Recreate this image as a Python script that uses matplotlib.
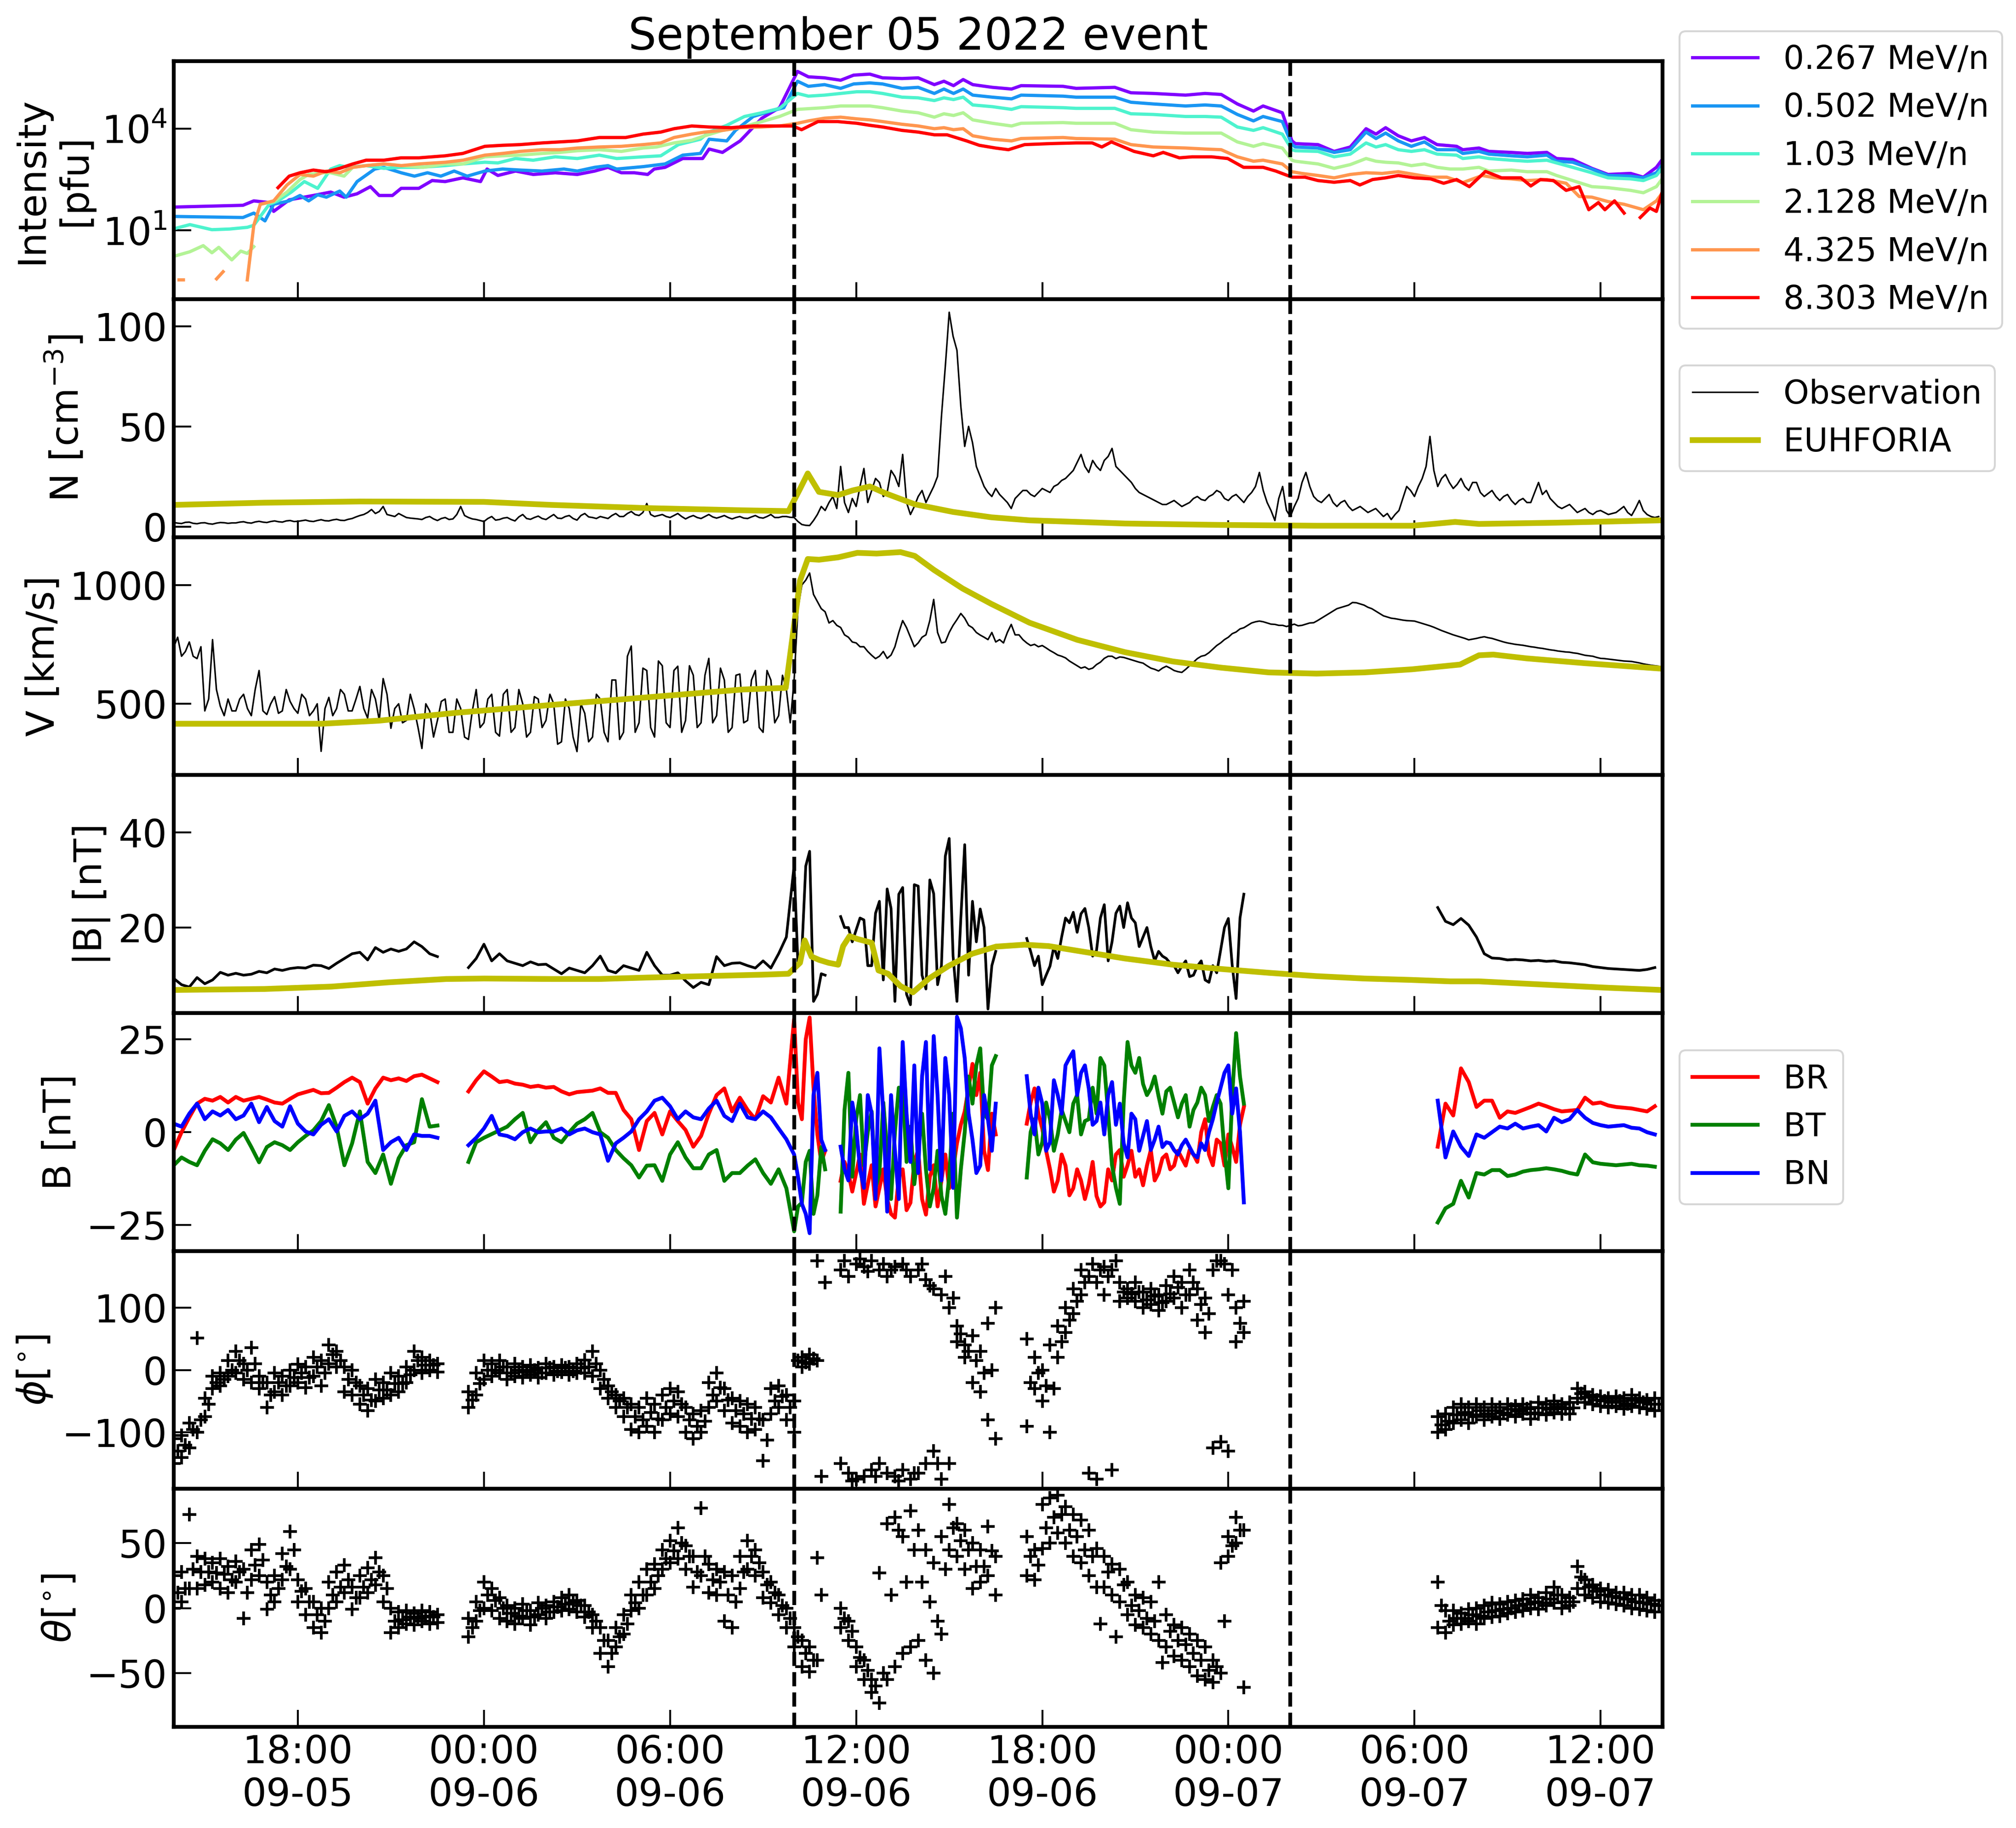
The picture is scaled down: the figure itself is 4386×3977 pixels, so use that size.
import numpy as np
import matplotlib
matplotlib.use("Agg")
import matplotlib.pyplot as plt
import matplotlib.dates as mdates
from matplotlib.ticker import NullLocator

nan = np.nan

# ---------------- time reference ----------------
start = np.datetime64("2022-09-05T14:00:00")
stop = np.datetime64("2022-09-07T14:00:00")
shock_time = np.datetime64("2022-09-06T10:00:00")
end_time = np.datetime64("2022-09-07T02:00:00")

# ---------------- panel 1: intensities (hours since start, log10 pfu) ----------------
energies = ["0.267 MeV/n", "0.502 MeV/n", "1.03 MeV/n", "2.128 MeV/n", "4.325 MeV/n", "8.303 MeV/n"]

flux_0267 = [(0.10,1.69),(2.23,1.74),(2.58,1.87),(3.08,1.82),(3.22,1.56),(3.72,1.90),(4.50,2.03),(5.06,2.13),
    (5.49,1.98),(5.91,2.08),(6.34,2.29),(6.62,2.03),(7.05,2.03),(7.33,2.24),(7.90,2.24),(8.33,2.47),(8.75,2.44),
    (9.32,2.55),(9.89,2.44),(10.10,2.81),(10.45,2.62),(11.02,2.75),(11.59,2.65),(12.30,2.70),(13.01,2.65),
    (13.57,2.75),(14.00,2.86),(14.43,2.70),(14.85,2.70),(15.28,2.65),(15.49,2.81),(15.84,2.86),(16.41,3.12),
    (17.05,3.12),(17.26,3.40),(17.69,3.30),(18.26,3.64),(18.96,4.31),(19.53,4.62),(20.11,5.69),(20.46,5.53),
    (20.98,5.50),(21.50,5.43),(21.92,5.58),(22.44,5.61),(22.85,5.50),(23.48,5.48),(24.00,5.50),(24.52,5.30),
    (24.83,5.40),(25.14,5.27),(25.45,5.45),(25.76,5.30),(26.39,5.22),(27.01,5.17),(27.32,5.27),(28.67,5.25),
    (29.09,5.19),(30.34,5.22),(30.86,5.06),(31.58,5.04),(32.62,4.99),(33.25,5.04),(33.77,5.01),(34.29,4.73),
    (34.81,4.52),(35.12,4.67),(35.74,4.47),(36.05,3.64),(36.16,3.56),(36.89,3.53),(37.41,3.33),(37.93,3.46),
    (38.44,4.00),(38.76,3.84),(39.07,4.03),(39.48,3.79),(39.90,3.64),(40.32,3.74),(40.73,3.53),(41.36,3.48),
    (41.56,3.38),(42.08,3.43),(42.40,3.33),(43.12,3.30),(43.64,3.27),(44.27,3.30),(44.58,3.12),(45.10,3.09),
    (45.72,2.83),(46.24,2.65),(46.97,2.68),(47.38,2.57),(47.80,2.86),(47.97,3.07)]

flux_0502 = [(0.10,1.41),(2.23,1.38),(2.58,1.51),(2.94,1.28),(3.22,1.77),(3.72,1.87),(4.07,2.03),(4.35,1.87),
    (4.64,2.05),(4.92,1.98),(5.35,2.16),(5.56,1.98),(5.91,2.44),(6.48,2.81),(6.77,2.86),(7.33,2.70),(7.76,2.60),
    (8.18,2.70),(8.61,2.60),(9.04,2.75),(9.46,2.60),(10.03,2.75),(10.60,2.81),(11.16,2.78),(11.87,2.75),
    (12.58,2.81),(13.01,2.75),(13.57,2.86),(14.00,2.91),(14.28,2.81),(15.13,2.88),(15.84,2.96),(16.41,3.22),
    (16.98,3.27),(17.26,3.69),(17.83,3.64),(18.11,3.95),(18.68,4.36),(19.25,4.52),(19.67,4.62),(20.11,5.40),
    (20.46,5.25),(20.98,5.30),(21.50,5.19),(21.92,5.32),(22.44,5.35),(22.85,5.32),(23.48,5.19),(24.00,5.22),
    (24.52,5.04),(24.83,5.17),(25.14,5.04),(25.45,5.17),(25.76,4.99),(26.39,4.93),(27.01,4.88),(27.32,4.99),
    (28.67,4.96),(29.09,4.93),(30.34,4.93),(30.86,4.78),(31.58,4.73),(32.62,4.67),(33.25,4.70),(33.77,4.67),
    (34.29,4.42),(34.81,4.23),(35.12,4.36),(35.74,4.21),(36.05,3.53),(36.16,3.46),(36.89,3.43),(37.41,3.30),
    (37.93,3.38),(38.44,3.90),(38.76,3.71),(39.07,3.87),(39.48,3.64),(39.90,3.48),(40.32,3.61),(40.73,3.38),
    (41.36,3.38),(41.56,3.27),(42.08,3.33),(42.40,3.25),(43.12,3.20),(43.64,3.17),(44.27,3.22),(44.58,3.04),
    (45.10,3.01),(45.72,2.81),(46.24,2.62),(46.97,2.60),(47.38,2.55),(47.80,2.70),(47.97,2.91)]

flux_103 = [(0.10,1.07),(0.52,1.17),(1.23,1.02),(1.80,1.04),(2.37,1.09),(2.58,1.15),(3.08,1.77),(3.36,1.87),
    (3.79,2.13),(4.21,2.44),(4.64,2.24),(5.06,2.81),(5.35,2.91),(5.63,2.86),(6.20,2.91),(6.77,2.83),(7.33,2.86),
    (7.90,2.86),(8.75,2.91),(9.32,2.96),(10.03,3.01),(10.45,2.99),(11.02,3.12),(11.59,3.07),(12.30,3.17),
    (13.01,3.12),(13.72,3.22),(14.28,3.12),(15.13,3.17),(15.70,3.20),(16.27,3.53),(16.98,3.69),(17.26,3.90),
    (17.83,4.10),(18.40,4.36),(18.96,4.47),(19.53,4.60),(20.11,5.04),(20.46,4.96),(20.98,4.99),(21.50,5.04),
    (22.02,5.09),(22.44,5.09),(22.85,5.04),(23.48,4.93),(24.00,4.91),(24.52,4.83),(24.83,4.91),(25.14,4.86),
    (25.45,4.93),(25.76,4.70),(26.39,4.65),(27.01,4.57),(27.32,4.65),(28.67,4.62),(29.09,4.60),(30.34,4.60),
    (30.86,4.44),(31.58,4.42),(32.62,4.36),(33.25,4.36),(33.77,4.34),(34.29,4.05),(34.81,3.95),(35.12,4.03),
    (35.74,3.84),(36.05,3.38),(36.16,3.35),(36.89,3.33),(37.41,3.17),(37.93,3.25),(38.44,3.58),(38.76,3.46),
    (39.07,3.53),(39.48,3.38),(39.90,3.33),(40.32,3.38),(40.73,3.25),(41.36,3.22),(41.56,3.12),(42.08,3.17),
    (42.40,3.12),(43.12,3.07),(43.64,3.04),(44.27,3.07),(44.58,2.99),(45.10,2.86),(45.72,2.70),(46.24,2.55),
    (46.97,2.52),(47.38,2.47),(47.80,2.62),(47.97,2.81)]

flux_2128 = [(0.10,0.26),(0.52,0.37),(0.95,0.55),(1.23,0.34),(1.45,0.50),(1.87,0.13),(2.16,0.39),(2.37,0.32),
    (2.58,0.52),(2.60,nan),(2.79,1.77),(3.22,1.85),(3.65,2.13),(4.07,2.50),(4.35,2.65),(4.78,2.70),(5.06,2.70),
    (5.49,2.60),(5.77,2.86),(6.20,2.91),(6.77,2.96),(7.33,2.91),(8.04,2.86),(8.75,2.96),(9.32,2.96),(10.03,3.17),
    (10.60,3.20),(11.16,3.22),(11.87,3.27),(12.44,3.30),(13.01,3.35),(13.72,3.38),(14.43,3.33),(15.13,3.43),
    (15.56,3.46),(16.13,3.58),(16.70,3.66),(17.12,3.79),(17.69,3.95),(18.26,4.03),(18.96,4.21),(19.53,4.36),
    (20.11,4.57),(20.98,4.62),(21.50,4.67),(22.44,4.67),(22.85,4.62),(23.48,4.52),(24.00,4.47),(24.52,4.34),
    (24.83,4.44),(25.14,4.39),(25.45,4.47),(25.76,4.26),(26.39,4.16),(27.01,4.08),(27.32,4.16),(28.67,4.18),
    (29.09,4.16),(30.34,4.16),(30.86,3.97),(31.58,3.90),(32.62,3.87),(33.25,3.87),(33.77,3.87),(34.29,3.61),
    (34.81,3.48),(35.12,3.56),(35.74,3.43),(36.05,3.07),(36.16,3.04),(36.89,2.96),(37.41,2.83),(37.93,2.94),
    (38.44,3.12),(38.76,3.04),(39.07,3.01),(39.48,2.99),(39.90,2.91),(40.32,2.96),(40.73,2.86),(41.15,2.81),
    (41.56,2.81),(42.08,2.86),(42.40,2.75),(43.12,2.78),(43.64,2.73),(44.27,2.73),(44.58,2.62),(45.10,2.47),
    (45.72,2.29),(46.24,2.26),(46.97,2.18),(47.38,2.11),(47.80,2.29),(47.97,2.50)]

flux_4325 = [(0.17,-0.46),(0.31,-0.46),(0.32,nan),(1.38,-0.43),(1.59,-0.22),(1.60,nan),(2.37,-0.46),(2.58,1.15),
    (2.79,1.77),(3.22,1.87),(3.65,2.34),(4.07,2.65),(4.50,2.60),(4.92,2.75),(5.35,2.70),(5.77,2.86),(6.20,2.91),
    (6.77,2.96),(7.33,2.91),(7.90,2.96),(8.75,3.01),(9.32,3.07),(10.03,3.22),(10.60,3.27),(11.16,3.33),
    (11.87,3.38),(12.44,3.38),(13.01,3.43),(13.72,3.46),(14.43,3.48),(15.13,3.53),(15.70,3.58),(16.13,3.74),
    (16.70,3.84),(17.12,3.90),(17.69,3.95),(18.26,4.03),(18.96,4.05),(19.53,4.08),(20.11,4.16),(20.46,4.23),
    (20.98,4.31),(21.50,4.34),(22.02,4.29),(22.44,4.26),(22.85,4.21),(23.48,4.13),(24.00,4.08),(24.52,4.00),
    (24.83,4.03),(25.14,3.97),(25.45,4.00),(25.76,3.79),(26.39,3.69),(27.01,3.64),(27.32,3.71),(28.67,3.74),
    (29.09,3.71),(30.34,3.69),(30.86,3.53),(31.58,3.46),(32.62,3.43),(33.25,3.40),(33.77,3.38),(34.29,3.17),
    (34.81,3.04),(35.12,3.07),(35.74,2.96),(36.05,2.73),(36.37,2.68),(36.89,2.62),(37.41,2.55),(37.93,2.65),
    (38.44,2.70),(38.96,2.68),(39.48,2.73),(40.00,2.65),(40.52,2.57),(41.04,2.57),(41.56,2.41),(42.19,2.62),
    (42.60,2.55),(43.12,2.52),(43.64,2.47),(44.27,2.50),(44.89,2.39),(45.31,2.00),(45.72,1.98),(46.24,1.85),
    (46.76,1.77),(47.38,1.61),(47.80,1.87),(47.97,2.08)]

flux_8303 = [(3.36,2.26),(3.72,2.60),(4.07,2.70),(4.50,2.78),(4.92,2.73),(5.35,2.83),(5.77,2.96),(6.20,3.07),
    (6.77,3.07),(7.33,3.14),(7.90,3.14),(8.75,3.20),(9.32,3.27),(10.03,3.48),(10.60,3.51),(11.16,3.53),
    (11.87,3.58),(12.44,3.61),(13.01,3.64),(13.72,3.74),(14.57,3.74),(15.13,3.84),(15.70,3.90),(16.13,4.00),
    (16.70,4.08),(17.26,4.05),(17.97,4.03),(18.68,4.08),(19.39,4.08),(19.96,4.08),(20.24,3.97),(20.77,4.21),
    (21.40,4.21),(22.02,4.16),(22.44,4.10),(22.85,4.05),(23.48,3.95),(24.00,3.90),(24.52,3.82),(24.93,3.82),
    (25.56,3.64),(25.97,3.51),(26.49,3.43),(26.91,3.38),(27.43,3.53),(28.26,3.56),(29.09,3.58),(29.61,3.58),
    (29.92,3.46),(30.23,3.61),(30.96,3.33),(31.58,3.20),(31.90,3.30),(32.42,3.14),(32.83,3.17),(33.46,3.17),
    (33.98,3.12),(34.49,2.86),(35.12,2.86),(35.53,2.75),(36.05,2.57),(36.47,2.57),(36.89,2.47),(37.41,2.42),
    (37.93,2.47),(38.24,2.34),(38.65,2.50),(39.07,2.55),(39.48,2.62),(40.00,2.55),(40.52,2.52),(40.94,2.39),
    (41.36,2.50),(41.77,2.29),(42.29,2.74),(42.81,2.55),(43.43,2.55),(43.75,2.31),(44.06,2.50),(44.48,2.47),
    (44.89,2.18),(45.31,2.29),(45.62,1.61),(45.93,1.82),(46.14,1.61),(46.45,1.87),(46.76,1.51),(46.80,nan),
    (47.28,1.38),(47.59,1.66),(47.80,1.56),(47.97,2.08)]

flux_series = [flux_0267, flux_0502, flux_103, flux_2128, flux_4325, flux_8303]

# ---------------- EUHFORIA model (hours, value) ----------------
euh_N = [(0,10.8),(2.92,11.9),(6.0,12.5),(10.0,12.3),(12.17,10.8),(15.25,9.2),(18.34,8.1),(19.82,7.7),
    (20.19,18.8),(20.44,26.5),(20.8,17.3),(21.42,15.7),(21.88,18.0),(22.44,20.0),(22.96,16.5),(23.89,11.1),
    (25.12,7.3),(26.36,4.6),(27.59,3.1),(30.67,1.5),(33.76,0.8),(36.84,0.4),(39.92,0.4),(40.54,1.2),
    (41.31,2.3),(42.08,1.3),(44.55,1.9),(47.94,3.1)]
euh_V = [(0,416),(4.77,416),(6.62,429),(9.09,462),(12.17,495),(15.25,527),(18.34,560),(19.73,567),
    (20.19,1018),(20.44,1109),(20.8,1106),(21.42,1116),(22.04,1135),(22.66,1132),(23.43,1138),(23.89,1122),
    (24.51,1063),(25.43,985),(26.36,920),(27.59,841),(29.13,769),(30.67,717),(32.21,678),(33.76,652),
    (35.3,632),(36.84,627),(38.38,632),(39.92,645),(41.47,665),(42.08,704),(42.54,707),(43.62,691),
    (45.47,671),(47.94,648)]
euh_B = [(0,6.9),(2.92,7.1),(5.08,7.6),(6.93,8.5),(8.78,9.2),(10.01,9.3),(12.17,9.2),(13.71,9.2),(15.25,9.5),
    (17.1,9.8),(18.96,10.1),(19.82,10.3),(20.19,12.6),(20.34,17.3),(20.56,13.9),(20.81,13.2),(21.11,12.6),
    (21.42,12.2),(21.58,16.1),(21.79,18.2),(22.04,17.6),(22.5,16.8),(22.72,11.0),(23.03,10.3),(23.43,7.7),
    (23.83,6.4),(24.35,9.3),(24.97,11.9),(25.74,14.5),(26.51,16.0),(27.43,16.4),(28.21,16.1),(29.44,14.8),
    (30.67,13.5),(32.21,12.2),(33.76,11.3),(35.3,10.5),(36.84,9.8),(38.38,9.3),(39.92,9.0),(41.16,8.7),
    (42.08,8.7),(43.0,8.4),(44.55,7.9),(46.09,7.4),(47.94,6.9)]

# ---------------- observations: 15-min samples from 2022-09-05 14:00 ("_mid": samples 7.5 min later) ----------------
N_obs = [2.0,1.5,2.2,1.4,1.9,1.2,2.0,1.6, 1.8,2.4,1.7,2.6,2.0,2.8,2.2,3.0,
    2.6,3.2,2.5,3.4,2.8,3.6,3.0,4.0, 5.5,7.0,6.5,10.0,5.5,6.5,4.5,4.0,
    3.5,5.0,3.0,4.5,3.8,10.0,4.5,3.5, 2.5,5.0,3.5,4.5,2.8,6.0,3.6,5.2,
    3.5,6.0,4.0,5.5,3.2,6.5,4.5,5.0, 4.0,6.5,5.0,7.5,5.5,11.5,5.0,6.0,
    4.5,6.5,3.8,5.5,4.0,6.0,4.2,5.5, 3.8,5.0,4.0,5.5,4.2,6.0,4.5,5.0,
    4.5,1.0,0.5,6.0,8.0,15.0,30.0,7.0, 10.0,29.0,18.0,22.0,17.0,25.0,36.0,6.0,
    15.0,12.0,20.0,55.0,107.0,88.0,40.0,42.0, 25.0,17.0,19.0,14.0,9.0,16.0,18.0,15.0,
    19.0,17.0,21.0,24.0,28.0,36.0,27.0,30.0, 33.0,39.0,28.0,24.0,19.0,16.0,14.0,12.0,
    11.0,13.0,10.0,12.0,15.0,13.0,16.0,17.0, 13.0,16.0,12.0,17.0,27.0,12.0,3.0,20.0,
    5.0,14.0,27.0,15.0,12.0,16.0,10.0,13.0, 8.0,10.0,7.0,9.0,5.0,3.5,8.0,20.0,
    15.0,24.0,45.0,20.0,26.0,19.0,24.0,18.0, 22.0,15.0,18.0,13.0,16.0,11.0,14.0,12.0,
    22.0,18.0,12.0,9.0,11.0,7.0,9.0,6.0, 8.0,6.0,7.0,10.0,5.5,13.0,6.0,4.5]
N_mid = [1.7,2.1,1.6,1.8,1.4,1.7,1.9,1.8, 2.2,1.9,2.3,2.2,2.5,2.4,2.8,2.5,
    2.9,2.7,3.0,2.9,3.3,3.1,3.6,4.8, 6.0,8.5,7.5,6.0,5.0,5.5,4.2,3.8,
    4.5,3.8,4.0,3.5,6.0,5.5,3.8,3.0, 4.0,3.2,4.2,3.5,4.8,4.0,4.5,4.0,
    4.8,4.2,5.0,4.0,5.5,4.8,4.0,4.5, 5.5,5.0,6.5,6.0,7.0,6.0,5.5,5.0,
    5.5,5.0,4.8,4.5,5.0,4.8,4.8,4.5, 4.5,4.2,4.8,4.5,5.0,4.5,5.0,4.6,
    2.5,0.6,3.0,10.0,12.0,9.0,12.0,14.0, 20.0,12.0,24.0,15.0,28.0,20.0,12.0,10.0,
    18.0,16.0,25.0,80.0,95.0,60.0,50.0,30.0, 20.0,15.0,16.0,12.0,14.0,18.0,16.0,17.0,
    18.0,20.0,23.0,26.0,32.0,30.0,33.0,28.0, 35.0,30.0,26.0,22.0,17.0,15.0,13.0,11.0,
    12.0,11.5,11.0,14.0,13.5,15.0,18.0,14.0, 15.0,14.0,15.0,20.0,18.0,8.0,14.0,8.0,
    10.0,22.0,20.0,13.0,14.0,12.0,12.0,10.0, 9.0,8.5,8.0,7.0,6.5,6.0,14.0,18.0,
    20.0,30.0,28.0,24.0,22.0,21.0,20.0,22.0, 17.0,16.5,15.0,15.0,13.0,13.0,12.0,17.0,
    16.0,14.0,10.0,10.0,9.0,8.0,7.0,7.5, 7.0,6.5,8.5,7.0,9.0,8.0,5.0,5.0]

V_obs = [740,700,760,690,470,770,490,520, 470,540,450,640,455,530,470,510,
    460,520,470,300,527,480,540,470, 573,440,520,606,397,500,430,480,
    312,470,430,520,380,480,350,560, 420,540,364,560,400,500,380,520,
    430,500,340,480,299,460,360,520, 340,600,380,743,420,640,360,660,
    400,658,430,620,420,691,450,600, 400,625,430,640,380,600,450,560,
    600,1000,1050,930,887,850,821,780, 756,740,704,700,691,740,850,780,
    756,790,939,756,800,854,860,820, 789,770,760,756,834,790,756,750,
    745,724,705,693,670,650,645,665, 691,700,697,690,680,671,650,638,
    658,640,632,660,690,704,730,756, 780,802,820,840,848,840,834,830,
    830,828,835,841,860,880,900,910, 926,920,906,890,870,860,855,850,
    848,838,828,815,802,790,780,769, 775,782,775,765,756,750,746,740,
    735,730,725,720,717,712,704,700, 691,688,684,680,678,672,665,660]
V_mid = [780,720,700,740,520,560,450,470, 520,480,560,470,500,460,560,480,
    540,450,500,480,450,560,470,520, 480,560,430,540,480,420,540,400,
    500,360,510,380,520,360,470,400, 520,380,540,380,560,360,530,400,
    540,330,520,360,500,340,540,380, 600,350,700,380,650,400,680,420,
    640,380,660,400,620,420,650,380, 620,420,600,400,640,420,620,420,
    900,1020,960,900,840,830,790,760, 740,720,690,720,705,800,820,740,
    780,850,800,760,830,880,830,800, 780,800,770,800,790,770,745,740,
    735,715,700,680,660,655,650,675, 700,690,695,685,675,660,645,650,
    650,635,645,675,700,715,745,770, 795,815,830,845,845,835,830,825,
    835,830,840,850,870,890,905,915, 925,915,900,880,865,858,852,849,
    843,833,822,808,796,785,775,772, 779,778,770,760,753,748,743,738,
    733,727,722,718,714,708,702,695, 690,686,682,679,675,668,662,658]

Bmag_obs = [9.3,8.0,7.5,9.5,8.2,9.0,10.6,10.0, 10.4,10.0,10.2,10.8,10.5,11.3,11.0,11.4,
    11.6,11.5,12.1,12.0,11.4,12.5,13.5,14.5, 14.8,13.2,15.8,14.8,15.5,15.0,15.5,17.0,
    16.0,14.5,13.9,nan,nan,nan,11.6,13.5, 16.5,13.0,14.5,13.0,12.5,12.0,12.8,12.2,
    12.3,11.3,10.3,11.5,11.0,10.5,12.0,14.0, 11.0,10.5,12.0,11.5,11.0,14.8,12.0,10.0,
    10.0,10.5,8.8,7.4,8.5,8.0,13.9,12.0, 12.5,12.6,12.0,11.5,13.0,11.5,14.5,18.0,
    33.0,15.0,36.0,6.0,10.0,nan,22.3,20.0, 19.5,21.6,12.0,25.5,28.1,4.5,28.4,3.8,
    28.7,7.1,27.1,12.0,38.7,4.5,37.4,25.5, 23.9,2.9,15.0,nan,nan,nan,17.7,12.0,
    8.0,11.9,13.5,22.0,23.2,22.9,20.0,15.2, 24.8,17.0,24.5,25.2,21.0,18.0,16.0,15.0,
    13.5,12.0,11.9,9.7,11.9,9.0,12.0,15.2, 21.9,5.1,27.0,nan,nan,nan,nan,nan,
    nan,nan,nan,nan,nan,nan,nan,nan, nan,nan,nan,nan,nan,nan,nan,nan,
    nan,nan,nan,24.2,21.3,20.6,21.9,20.5, 18.0,14.5,13.6,13.5,13.2,13.3,13.2,13.0,
    13.1,12.9,13.0,12.7,12.6,12.4,12.2,11.8, 11.6,11.4,11.3,11.2,11.1,11.0,11.2,11.6]

BR_obs = [-4.8,0.0,4.0,7.7,9.0,8.5,9.5,8.0, 9.5,8.5,9.0,9.5,8.8,8.0,7.7,9.0,
    10.2,10.8,11.4,10.5,10.6,12.0,13.5,14.7, 13.5,7.7,11.8,14.7,14.0,14.5,13.8,15.1,
    15.5,14.5,13.5,nan,nan,nan,11.0,14.0, 16.4,15.0,13.5,13.8,13.1,12.8,12.2,12.5,
    12.0,12.2,11.0,10.2,10.8,11.0,11.2,11.8, 10.6,10.6,6.0,3.5,-4.8,3.0,5.2,-0.6,
    5.6,3.0,0.6,-3.9,-1.0,5.0,10.0,11.8, 5.6,9.3,6.0,3.5,9.7,8.0,14.7,7.7,
    30.5,3.5,30.9,-0.6,-5.0,nan,-13.1,-11.0, -11.0,-19.3,-8.9,-15.1,-18.0,-23.0,-10.0,-19.0,
    -4.8,-22.2,-8.9,-13.0,-15.1,-3.0,5.6,18.4, 16.0,-10.2,-0.6,nan,nan,nan,2.3,11.8,
    1.0,-10.0,-13.0,-9.0,-15.1,-13.0,-14.0,-17.2, -18.9,-13.0,-4.8,-8.9,-12.0,-14.3,-4.8,-11.0,
    -6.0,-9.0,-7.0,-4.8,-8.0,3.5,-8.9,-3.0, -0.6,-8.0,6.8,nan,nan,nan,nan,nan,
    nan,nan,nan,nan,nan,nan,nan,nan, nan,nan,nan,nan,nan,nan,nan,nan,
    nan,nan,nan,-3.9,7.7,4.5,17.2,13.5, 6.8,8.5,8.5,3.9,5.6,5.2,6.0,6.8,
    7.7,7.0,6.2,5.6,5.8,6.0,9.3,7.7, 8.0,7.2,6.8,6.6,6.4,6.0,5.6,7.0]

BT_obs = [-8.9,-6.8,-8.0,-8.9,-5.0,-1.9,-3.0,-4.8, -2.0,-0.2,-4.0,-8.1,-4.0,-2.7,-3.5,-4.8,
    -2.7,-1.0,0.5,3.0,7.3,1.5,-8.9,-3.0, 5.6,-8.0,-11.0,-6.0,-13.9,-7.0,-3.5,-2.7,
    8.9,1.5,1.8,nan,nan,nan,-8.0,-2.7, -1.5,-0.5,0.5,1.5,3.5,5.2,-2.7,0.5,
    2.7,-1.5,-2.7,0.0,2.3,3.5,5.2,0.0, -1.5,-4.8,-7.0,-8.9,-12.2,-9.0,-8.9,-13.1,
    -6.0,-2.7,-6.8,-9.7,-9.7,-6.0,-4.8,-13.1, -11.0,-11.0,-9.0,-7.3,-11.0,-13.9,-10.0,-15.1,
    -26.7,-19.0,-5.0,-17.0,-10.0,nan,-21.4,16.0, 3.5,-9.0,5.6,-11.0,-5.0,0.0,11.8,1.5,
    -5.0,-10.0,-15.0,-17.2,-12.0,-23.0,0.0,7.7, 22.6,3.5,20.5,nan,nan,nan,-12.2,3.5,
    -2.7,3.5,-0.6,3.0,7.7,-0.6,3.5,5.0, 18.0,-8.9,-19.3,24.3,16.0,13.0,11.8,9.7,
    11.0,8.0,7.7,1.5,8.0,10.0,6.8,7.7, -15.1,26.7,7.7,nan,nan,nan,nan,nan,
    nan,nan,nan,nan,nan,nan,nan,nan, nan,nan,nan,nan,nan,nan,nan,nan,
    nan,nan,nan,-24.3,-20.5,-19.3,-13.1,-17.6, -11.0,-11.4,-10.2,-10.2,-11.8,-11.4,-10.6,-10.2,
    -10.0,-9.7,-10.0,-10.4,-11.0,-11.4,-6.0,-8.1, -8.5,-8.7,-8.9,-8.7,-8.5,-8.9,-9.0,-9.3]

BN_obs = [2.3,1.5,5.0,7.7,3.5,5.6,4.5,6.0, 3.5,4.5,7.7,2.7,6.8,3.0,1.5,7.0,
    2.3,0.2,-0.6,2.0,3.5,0.2,4.4,5.6, 3.5,5.0,8.5,-4.8,-2.7,-1.5,-4.8,-0.6,
    -1.0,-1.0,-1.5,nan,nan,nan,-3.5,-1.5, 1.0,4.4,-0.6,-1.0,-1.9,0.0,1.0,0.0,
    0.2,0.2,1.0,-0.6,0.5,1.0,0.0,-0.6, -7.7,-3.0,-1.5,0.2,3.5,5.6,8.5,9.3,
    7.0,3.5,5.6,4.0,3.5,6.4,8.5,4.4, 3.0,7.7,4.0,3.5,5.6,4.0,1.0,-1.9,
    -6.0,-19.3,-27.2,16.0,-4.8,nan,-3.9,-13.0, 1.5,-15.0,5.0,22.6,-21.4,-5.0,24.3,-8.0,
    -11.0,24.3,25.9,-13.0,10.0,31.1,20.0,-2.0, -9.0,3.5,7.7,nan,nan,nan,15.1,-0.6,
    7.7,-2.7,10.0,18.0,21.8,16.0,11.8,3.0, -0.6,13.5,7.7,-6.8,3.5,-1.0,-4.8,1.5,
    -2.7,-4.8,-3.5,-4.0,-6.8,-4.8,3.5,12.0, 18.0,11.8,-18.9,nan,nan,nan,nan,nan,
    nan,nan,nan,nan,nan,nan,nan,nan, nan,nan,nan,nan,nan,nan,nan,nan,
    nan,nan,nan,8.5,-6.8,0.2,-3.9,-6.4, -0.6,-1.5,0.0,1.5,1.0,2.3,1.0,1.5,
    1.9,0.2,3.9,2.7,3.5,6.0,3.9,2.5, 1.9,1.5,1.7,1.9,1.2,1.0,0.0,-0.6]

# extra samples inside the turbulent interval (from sample 80 = 10:00 09-06 onward, 7.5 min after each)
turb_first = 80
Bmag_mid = [12.0,32.9,4.5,10.3,nan,nan,20.0,17.0, 22.0,12.0,23.0,9.0,24.0,27.0,6.0,29.0,
    10.0,30.0,8.0,35.0,14.0,22.0,10.0,17.0, 20.0,12.0,nan,nan,nan,nan,15.0,14.0,
    10.0,16.0,18.0,21.0,19.0,24.0,14.0,22.0, 13.0,23.0,20.0,22.0,16.0,20.0,13.0,14.0,
    12.5,10.5,13.0,10.0,13.0,8.5,10.5,20.0, 12.0,22.0,nan]
BR_mid = [8.0,25.0,12.0,-8.0,nan,nan,-8.0,-16.0, -6.0,-14.0,-20.0,-10.0,-22.0,-12.0,-21.0,-8.0,
    -18.0,-12.0,-20.0,-6.0,-10.0,2.0,12.0,10.0, -5.0,5.0,nan,nan,nan,nan,8.0,5.0,
    -5.0,-16.0,-6.0,-17.0,-10.0,-18.0,-8.0,-20.0, -10.0,-6.0,-12.0,-5.0,-10.0,-9.0,-13.0,-7.0,
    -10.0,-5.0,-9.0,-6.0,0.0,-6.0,-2.0,-9.0, -4.0,2.0,nan]
BT_mid = [-20.0,-8.0,-22.0,-4.0,nan,nan,6.0,-12.0, 10.0,0.0,-15.0,8.0,-18.0,12.0,-8.0,-14.0,
    5.0,-20.0,-5.0,-22.0,5.0,-10.0,15.0,18.0, 5.0,18.0,nan,nan,nan,nan,0.0,-6.0,
    8.0,-5.0,6.0,0.0,10.0,3.0,12.0,20.0, 5.0,-15.0,8.0,18.0,20.0,10.0,15.0,5.0,
    12.0,4.0,10.0,6.0,12.0,3.0,10.0,-5.0, 10.0,15.0,nan]
BN_mid = [-12.0,-22.0,10.0,-2.0,nan,nan,-10.0,8.0, -10.0,10.0,-18.0,5.0,10.0,-18.0,5.0,18.0,
    15.0,-10.0,10.0,20.0,-15.0,28.0,5.0,-11.0, 10.0,-5.0,nan,nan,nan,nan,5.0,12.0,
    -5.0,14.0,5.0,20.0,10.0,18.0,2.0,8.0, 10.0,2.0,-3.0,5.0,-5.0,3.0,-2.0,-4.0,
    -3.0,-6.0,-2.0,-6.0,-3.0,0.0,8.0,16.0, 5.0,0.0,nan]

# angle clouds: several markers per 15-min sample
phi_a = [-110,-105,-85,51,-45,-10,-5,15, 30,10,36,-10,-20,-5,-10,0,
    9,5,20,15,40,30,5,0, -25,-30,-15,-20,-5,-10,5,30,
    20,15,10,nan,nan,nan,-35,-5, 15,10,15,5,10,5,8,3,
    10,5,8,5,10,16,30,0, -25,-40,-45,-55,-60,-45,-55,-40,
    -30,-35,-60,-70,-65,-20,-5,-30, -45,-50,-55,-60,-80,-30,-25,-40,
    -50,20,25,15,140,nan,160,150, 170,165,175,160,150,165,170,150,
    160,145,130,120,100,70,40,55, 30,75,100,nan,nan,nan,50,20,
    0,40,70,100,130,160,150,140, 165,160,140,130,140,125,130,120,
    135,150,140,160,130,115,160,175, 120,100,110,nan,nan,nan,nan,nan,
    nan,nan,nan,nan,nan,nan,nan,nan, nan,nan,nan,nan,nan,nan,nan,nan,
    nan,nan,nan,-75,-70,-60,-55,-60, -55,-60,-55,-60,-55,-58,-55,-60,
    -52,-55,-50,-55,-52,-30,-35,-40, -42,-45,-42,-45,-40,-45,-48,-45]
phi_b = [-150,-140,-125,-100,-75,-30,-25,-10, -5,-15,-20,-30,-60,-35,-40,-25,
    -20,-28,-10,-25,10,5,-35,-40, -55,-65,-50,-45,-40,-35,-20,0,
    -5,0,-3,nan,nan,nan,-60,-40, -15,-10,-5,-15,-10,-12,-8,-12,
    -5,-8,-3,-8,-5,-5,-10,-30, -45,-60,-75,-95,-100,-90,-100,-80,
    -70,-75,-100,-110,-100,-60,-50,-65, -85,-90,-100,-95,-145,-70,-60,-80,
    -100,5,10,175,nan,nan,-150,-165, -175,-170,-160,-150,-165,-170,-160,-175,
    -165,-150,-130,-175,-150,45,20,-20, -35,-80,-110,nan,nan,nan,-90,-30,
    -50,-100,20,60,90,120,-165,-175, 120,-160,110,115,110,100,105,95,
    110,115,100,120,80,60,-125,-115, -130,45,60,nan,nan,nan,nan,nan,
    nan,nan,nan,nan,nan,nan,nan,nan, nan,nan,nan,nan,nan,nan,nan,nan,
    nan,nan,nan,-100,-95,-85,-80,-85, -75,-80,-75,-78,-72,-75,-70,-78,
    -70,-72,-68,-70,-70,-45,-52,-55, -58,-60,-58,-62,-58,-60,-62,-65]
phi_mid = [-130,-120,-95,-80,-55,-20,-15,0, 15,0,10,-20,-40,-20,-25,-12,
    -5,-12,5,-5,25,15,-15,-20, -40,-48,-32,-32,-22,-22,-8,15,
    8,8,nan,nan,nan,nan,-48,-22, 0,0,5,-5,0,-3,0,-5,
    3,-2,3,-2,3,5,10,-15, -35,-50,-60,-75,-80,-68,-78,-60,
    -50,-55,-80,-90,-82,-40,-28,-48, -65,-70,-78,-78,-112,-50,-42,-60,
    15,12,18,-170,nan,nan,175,-178, 178,158,-170,170,160,-178,160,-165,
    170,135,-150,150,115,58,30,15, -5,0,nan,nan,nan,nan,-20,-5,
    -25,-30,45,80,110,140,170,160, 150,175,125,122,125,112,118,108,
    122,132,120,140,105,90,175,170, 160,75,nan,nan,nan,nan,nan,nan,
    nan,nan,nan,nan,nan,nan,nan,nan, nan,nan,nan,nan,nan,nan,nan,nan,
    nan,nan,nan,-88,-82,-72,-68,-72, -65,-70,-65,-69,-63,-66,-62,-69,
    -61,-63,-59,-62,-61,-38,-44,-48, -50,-52,-50,-54,-49,-52,-55,-55]

theta_a = [25,28,72,40,38,35,38,32, 36,30,45,49,20,25,42,59,
    22,15,5,0,20,28,33,16, 25,31,39,25,0,-3,-2,-4,
    -2,-3,-5,nan,nan,nan,-8,5, 20,15,8,2,0,3,-2,4,
    2,5,8,10,6,2,-5,-15, -25,-15,-5,10,20,30,34,45,
    52,62,48,40,77,34,30,28, 25,40,52,45,28,20,10,0,
    -15,-25,-30,39,nan,nan,0,-10, -30,-40,-55,27,65,70,55,75,
    60,45,35,55,80,65,60,50, 45,63,40,nan,nan,nan,55,45,
    80,85,87,78,72,68,60,46, 40,34,30,20,10,8,5,20,
    -5,-13,-15,-20,-25,-30,-40,35, 55,70,60,nan,nan,nan,nan,nan,
    nan,nan,nan,nan,nan,nan,nan,nan, nan,nan,nan,nan,nan,nan,nan,nan,
    nan,nan,nan,20,-2,-2,-4,-1, 0,2,4,3,5,6,7,10,
    8,12,16,10,8,32,22,18, 15,14,12,12,10,10,8,6]
theta_b = [0,5,15,15,18,20,15,12, 20,-8,22,25,-1,5,22,30,
    5,-5,-15,-19,0,5,12,-1, 8,12,18,5,-19,-15,-12,-13,
    -10,-12,-11,nan,nan,nan,-22,-10, 0,-2,-8,-10,-12,-8,-13,-5,
    -8,-3,-2,-1,-3,-7,-15,-35, -45,-30,-20,-2,0,10,15,30,
    35,38,30,16,25,12,10,-10, -15,15,30,25,8,4,-5,-15,
    -30,-45,-49,-40,nan,nan,-15,-25, -45,-55,-65,-73,-55,-45,-35,-30,
    -25,-40,-50,-20,45,40,30,15, 20,25,10,nan,nan,nan,25,22,
    46,50,58,50,40,35,25,16, 16,10,5,-5,-13,-15,-20,-25,
    -30,-37,-40,-45,-52,-55,-57,-50, 40,50,-61,nan,nan,nan,nan,nan,
    nan,nan,nan,nan,nan,nan,nan,nan, nan,nan,nan,nan,nan,nan,nan,nan,
    nan,nan,nan,-15,-19,-13,-12,-10, -12,-8,-7,-6,-4,-3,-2,0,
    -1,2,4,0,2,15,10,8, 5,4,3,2,0,-1,-2,-3]
theta_mid = [12,15,30,28,28,27,26,22, 28,12,33,37,10,15,32,45,
    13,5,-5,-10,10,16,22,8, 16,22,28,15,-10,-9,-7,-8,
    -6,-7,nan,nan,nan,nan,-15,-2, 10,6,0,-4,-6,-2,-7,0,
    -3,1,3,4,2,-3,-10,-25, -35,-22,-12,4,10,20,25,38,
    44,50,40,28,40,22,20,10, 5,28,40,35,18,12,2,-8,
    -22,-35,-40,10,nan,nan,-8,-18, -38,-48,-60,-50,10,60,20,45,
    20,5,-10,30,62,52,45,32, 32,44,nan,nan,nan,nan,40,33,
    62,70,72,60,55,45,40,-12, 28,-22,18,2,-2,-8,-10,-42,
    -18,-25,-28,-35,-40,-48,-45,-10, 48,60,nan,nan,nan,nan,nan,nan,
    nan,nan,nan,nan,nan,nan,nan,nan, nan,nan,nan,nan,nan,nan,nan,nan,
    nan,nan,nan,2,-10,-8,-8,-5, -6,-3,-2,-1,0,2,3,5,
    4,7,10,5,5,24,16,13, 10,9,8,7,5,4,3,2]

ylabels = ["Intensity\n[pfu]", "N [cm$^{-3}$]", "V [km/s]", "|B| [nT]", "B [nT]",
           r"$\phi[^{\circ}]$", r"$\theta[^{\circ}]$"]

STEP_H = 0.25


def hours_to_dt(h):
    h = np.asarray(h, dtype=float)
    return start + np.round(h * 3600).astype("int64").astype("timedelta64[s]")


def split_pairs(pairs):
    t, v = zip(*pairs)
    return hours_to_dt(t), np.array(v, dtype=float)


def sample_series(main, mid=None, first=0):
    """Combine 15-min samples with the extra samples taken 7.5 min later."""
    hrs = list(np.arange(len(main)) * STEP_H)
    vals = list(main)
    if mid is not None:
        for i, v in enumerate(mid):
            if not np.isnan(v):
                hrs.append((first + i) * STEP_H + STEP_H / 2)
                vals.append(v)
    order = np.argsort(hrs, kind="stable")
    return hours_to_dt(np.array(hrs)[order]), np.array(vals, dtype=float)[order]


def marker_times(values, offset=0.0):
    return hours_to_dt(np.arange(len(values)) * STEP_H + offset)


W, H, DPI = 4386, 3977, 300
fig, axes = plt.subplots(7, 1, sharex=True, figsize=(W / DPI, H / DPI), dpi=DPI)
fig.subplots_adjust(left=0.0862, right=0.8247, top=0.9665, bottom=0.0553, hspace=0)

# Panel 1
ax = axes[0]
colors = plt.cm.rainbow(np.linspace(0, 1, len(energies)))
for lab, ser, col in zip(energies, flux_series, colors):
    t, v = split_pairs(ser)
    ax.plot(t, 10.0 ** v, color=col, lw=1.7, label=lab)
ax.set_yscale("log")
ax.set_ylim(10 ** -1.03, 10 ** 5.99)
ax.set_yticks([10, 1e4])
ax.yaxis.set_minor_locator(NullLocator())
ax.legend(loc="upper left", bbox_to_anchor=(0.833, 0.983), bbox_transform=fig.transFigure,
          borderaxespad=0, fontsize=17)
ax.set_title("September 05 2022 event", fontsize=23)

# Panel 2
ax = axes[1]
t, v = sample_series(N_obs, N_mid)
l1, = ax.plot(t, v, color="k", lw=0.8, label="Observation")
t, v = split_pairs(euh_N)
l2, = ax.plot(t, v, color="y", lw=3, label="EUHFORIA")
ax.set_ylim(-5.3, 113.5)
ax.set_yticks([0, 50, 100])
ax.legend(handles=[l1, l2], loc="upper left", bbox_to_anchor=(0.833, 0.800),
          bbox_transform=fig.transFigure, borderaxespad=0, fontsize=17)

# Panel 3
ax = axes[2]
t, v = sample_series(V_obs, V_mid)
ax.plot(t, v, color="k", lw=0.8)
t, v = split_pairs(euh_V)
ax.plot(t, v, color="y", lw=3)
ax.set_ylim(200, 1201)
ax.set_yticks([500, 1000])

# Panel 4
ax = axes[3]
t, v = sample_series(Bmag_obs, Bmag_mid, turb_first)
ax.plot(t, v, color="k", lw=1.4)
t, v = split_pairs(euh_B)
ax.plot(t, v, color="y", lw=3)
ax.set_ylim(2.05, 52.0)
ax.set_yticks([20, 40])

# Panel 5
ax = axes[4]
handles = []
for main, mid, col, lab in [(BR_obs, BR_mid, "r", "BR"), (BT_obs, BT_mid, "g", "BT"),
                            (BN_obs, BN_mid, "b", "BN")]:
    t, v = sample_series(main, mid, turb_first)
    h, = ax.plot(t, v, color=col, lw=2.0, label=lab)
    handles.append(h)
ax.set_ylim(-32.0, 32.1)
ax.set_yticks([-25, 0, 25])
ax.legend(handles=handles, loc="upper left", bbox_to_anchor=(0.833, 0.4254),
          bbox_transform=fig.transFigure, borderaxespad=0, fontsize=17)

# Panel 6
ax = axes[5]
for arr, off in ((phi_a, 0.0), (phi_b, 0.0), (phi_mid, STEP_H / 2)):
    ax.plot(marker_times(arr, off), arr, ls="none", marker="+", color="k", ms=7, mew=1.4)
ax.set_ylim(-190.5, 190.5)
ax.set_yticks([-100, 0, 100])

# Panel 7
ax = axes[6]
for arr, off in ((theta_a, 0.0), (theta_b, 0.0), (theta_mid, STEP_H / 2)):
    ax.plot(marker_times(arr, off), arr, ls="none", marker="+", color="k", ms=7, mew=1.4)
ax.set_ylim(-91.5, 91.8)
ax.set_yticks([-50, 0, 50])

for ax, lab in zip(axes, ylabels):
    ax.set_ylabel(lab, fontsize=20)
    for sp in ax.spines.values():
        sp.set_linewidth(2)
    ax.tick_params(axis="both", which="major", direction="in", length=9, width=1,
                   labelsize=20, top=False, right=False)
    ax.axvline(shock_time, color="k", ls="--", lw=2)
    ax.axvline(end_time, color="k", ls="--", lw=2)

axes[-1].set_xlim(start, stop)
axes[-1].xaxis.set_major_locator(mdates.HourLocator(byhour=[0, 6, 12, 18]))
axes[-1].xaxis.set_major_formatter(mdates.DateFormatter("%H:%M\n%m-%d"))

fig.savefig("out.png", dpi=DPI)
